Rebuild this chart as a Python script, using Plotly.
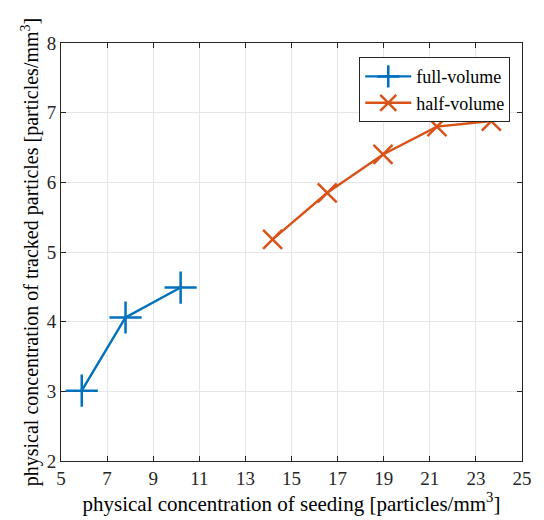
import plotly.graph_objects as go

full_x = [5.90, 7.80, 10.19]
full_y = [3.01, 4.06, 4.49]
half_x = [14.18, 16.55, 18.97, 21.31, 23.67]
half_y = [5.18, 5.85, 6.40, 6.80, 6.88]

x_ticks = [5, 7, 9, 11, 13, 15, 17, 19, 21, 23, 25]
y_ticks = [2, 3, 4, 5, 6, 7, 8]

blue = "#0072BD"
orange = "#D95319"
font_family = "Liberation Serif"

fig = go.Figure()
fig.add_trace(go.Scatter(
    x=full_x, y=full_y, mode="lines+markers", name="full-volume",
    line=dict(color=blue, width=2.4),
    marker=dict(symbol="cross-thin", size=23, color=blue,
                line=dict(color=blue, width=2.5)),
))
fig.add_trace(go.Scatter(
    x=half_x, y=half_y, mode="lines+markers", name="half-volume",
    line=dict(color=orange, width=2.4),
    marker=dict(symbol="x-thin", size=19, color=orange,
                line=dict(color=orange, width=2.5)),
))

axis_common = dict(
    showline=True, linecolor="#262626", linewidth=1, mirror="ticks",
    ticks="inside", ticklen=5, tickcolor="#262626", tickwidth=1,
    showgrid=True, gridcolor="#e6e6e6", gridwidth=1,
    zeroline=False,
    tickfont=dict(family=font_family, size=19, color="#262626"),
)

fig.update_layout(
    width=544, height=520,
    margin=dict(l=61, r=15, t=43, b=59),
    paper_bgcolor="white", plot_bgcolor="white",
    font=dict(family=font_family, color="#262626"),
    showlegend=True,
    legend=dict(
        x=0.647, y=0.966, xanchor="left", yanchor="top",
        bgcolor="white", bordercolor="#262626", borderwidth=1,
        font=dict(family=font_family, size=18, color="black"),
        itemwidth=46, tracegroupgap=0,
    ),
    xaxis=dict(
        range=[5, 25], tickvals=x_ticks, ticktext=[str(v) for v in x_ticks],
        title=dict(text="physical concentration of seeding [particles/mm<sup>3</sup>]",
                   font=dict(family=font_family, size=21, color="black"), standoff=4),
        **axis_common,
    ),
    yaxis=dict(
        range=[2, 8], tickvals=y_ticks, ticktext=[str(v) for v in y_ticks],
        title=dict(text="physical concentration of tracked particles [particles/mm<sup>3</sup>]",
                   font=dict(family=font_family, size=20, color="black"), standoff=2),
        **axis_common,
    ),
)

fig.write_html("out.html")
